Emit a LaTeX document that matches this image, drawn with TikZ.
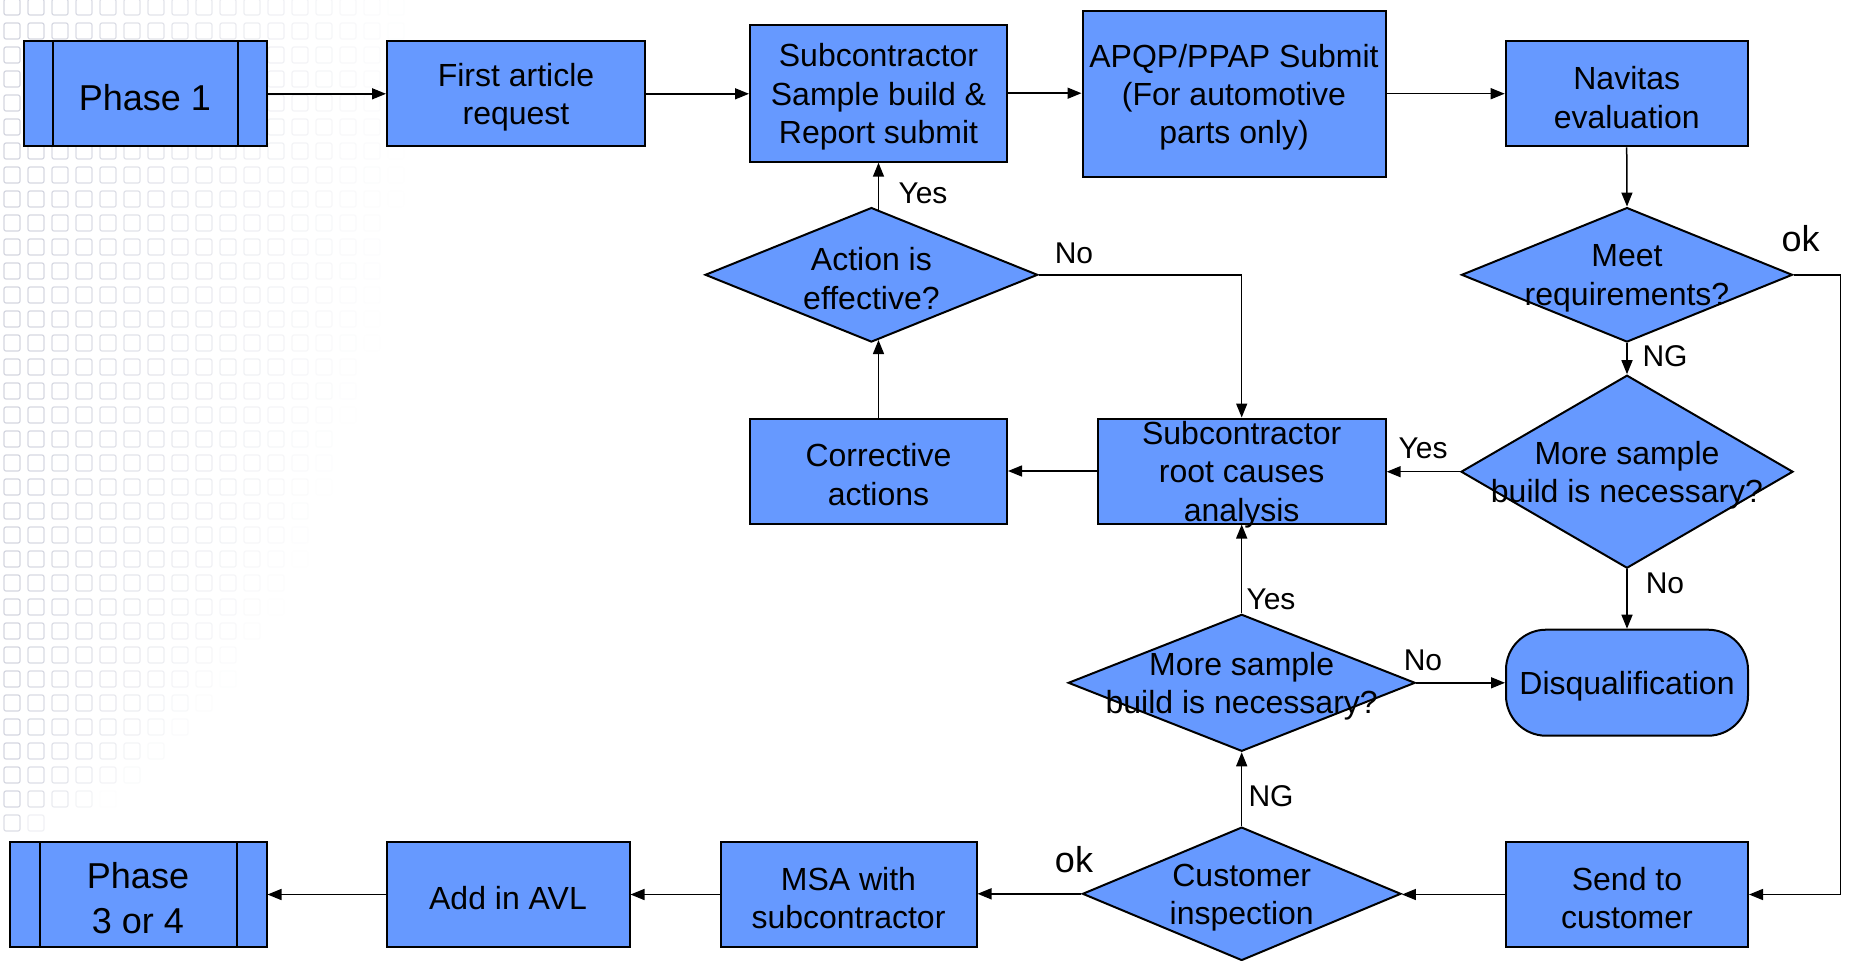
\documentclass[tikz,border=0pt]{standalone}
\usepackage{fontspec}
\setmainfont{Liberation Sans}
\usetikzlibrary{shapes.geometric,arrows.meta,calc}
\definecolor{nblue}{HTML}{6699FF}
\definecolor{gridc}{RGB}{212,214,224}
\newdimen\pxu \pxu=0.5pt
\begin{document}
\begin{tikzpicture}[x=0.5pt,y=-0.5pt,
  box/.style={draw=black, line width=1pt, fill=nblue, rectangle, inner sep=0pt},
  dia/.style={draw=black, line width=1pt, fill=nblue, diamond, inner sep=0pt},
  txt/.style={align=center, font=\fontsize{16}{19.2}\selectfont, inner sep=0pt, yshift=-1.8pt},
  big/.style={font=\fontsize{18}{22.4}\selectfont},
  lbl/.style={font=\fontsize{15}{18}\selectfont, inner sep=0pt},
  lblb/.style={font=\fontsize{18}{21}\selectfont, inner sep=0pt},
  conn/.style={draw=black, line width=0.75pt, -{Triangle[length=7pt,width=5.5pt]}},
]
\useasboundingbox (0,0) rectangle (1849,960);
\fill[white] (0,0) rectangle (1849,960);
% faint background grid
\foreach \i in {0,...,18} {
  \foreach \j in {0,...,34} {
    \pgfmathsetmacro\cx{12+24*\i}
    \pgfmathsetmacro\cy{7+24*\j}
    \pgfmathsetmacro\X{390*sqrt(max(0,1-(\cy/830)^2))}
    \pgfmathsetmacro\op{max(0,min(1,1.05-\cx/max(\X,1)))}
    \draw[gridc, line width=0.6pt, opacity=\op, rounded corners=1pt] (\cx-8,\cy-8) rectangle (\cx+8,\cy+8);
  }
}
% nodes
\node[box, minimum width=243\pxu, minimum height=105\pxu] (p1) at (145,93.8) {};
\node[txt, big] (p1t) at (p1.center) {Phase 1};
\draw[line width=1pt] ($(p1.north west)+(30,0)$) -- ($(p1.south west)+(30,0)$);
\draw[line width=1pt] ($(p1.north east)+(-30,0)$) -- ($(p1.south east)+(-30,0)$);
\node[box, minimum width=258\pxu, minimum height=105\pxu] (far) at (516,93.8) {};
\node[txt] (fart) at (far.center) {First article\\request};
\node[box, minimum width=257\pxu, minimum height=137\pxu] (ssb) at (878.5,93.2) {};
\node[txt] (ssbt) at (ssb.center) {Subcontractor\\Sample build \&\\Report submit};
\node[box, minimum width=303\pxu, minimum height=166\pxu] (apqp) at (1234,93.7) {};
\node[txt] (apqpt) at (apqp.center) {APQP/PPAP Submit\\(For automotive\\parts only)};
\node[box, minimum width=242\pxu, minimum height=105\pxu] (nav) at (1626.7,93.8) {};
\node[txt] (navt) at (nav.center) {Navitas\\evaluation};
\node[dia, minimum width=331\pxu, minimum height=134.5\pxu] (meet) at (1627,274.8) {};
\node[txt] (meett) at (meet.center) {Meet\\requirements?};
\node[dia, minimum width=332\pxu, minimum height=193\pxu] (msr) at (1627,471.7) {};
\node[txt] (msrt) at (msr.center) {More sample\\build is necessary?};
\node[box, rounded corners=20pt, minimum width=242\pxu, minimum height=106\pxu] (dq) at (1627,682.7) {};
\node[txt] (dqt) at (dq.center) {Disqualification};
\node[box, minimum width=242\pxu, minimum height=105\pxu] (stc) at (1627,894.5) {};
\node[txt] (stct) at (stc.center) {Send to\\customer};
\node[dia, minimum width=318.5\pxu, minimum height=133.4\pxu] (ci) at (1241.7,893.8) {};
\node[txt] (cit) at (ci.center) {Customer\\inspection};
\node[box, minimum width=256\pxu, minimum height=105\pxu] (msa) at (848.5,894.5) {};
\node[txt] (msat) at (msa.center) {MSA with\\subcontractor};
\node[box, minimum width=243\pxu, minimum height=105\pxu] (avl) at (508,894.5) {};
\node[txt] (avlt) at (avl.center) {Add in AVL};
\node[box, minimum width=257\pxu, minimum height=105\pxu] (p3) at (138,894.5) {};
\node[txt, big] (p3t) at (p3.center) {Phase\\3 or 4};
\draw[line width=1pt] ($(p3.north west)+(31,0)$) -- ($(p3.south west)+(31,0)$);
\draw[line width=1pt] ($(p3.north east)+(-31,0)$) -- ($(p3.south east)+(-31,0)$);
\node[dia, minimum width=347\pxu, minimum height=137\pxu] (msm) at (1241.7,682.8) {};
\node[txt] (msmt) at (msm.center) {More sample\\build is necessary?};
\node[box, minimum width=288\pxu, minimum height=105\pxu] (rca) at (1241.7,471) {};
\node[txt] (rcat) at (rca.center) {Subcontractor\\root causes\\analysis};
\node[box, minimum width=257\pxu, minimum height=105\pxu] (ca) at (878.5,471) {};
\node[txt] (cat) at (ca.center) {Corrective\\actions};
\node[dia, minimum width=332.6\pxu, minimum height=134.5\pxu] (act) at (871.4,274.8) {};
\node[txt] (actt) at (act.center) {Action is\\effective?};
\coordinate (rline) at (1840.7,0);
% connectors
\draw[conn] (p1.east) -- (p1.east -| far.west);
\draw[conn] (far.east) -- (far.east -| ssb.west);
\draw[conn] (ssb.east) -- (ssb.east -| apqp.west);
\draw[conn] (apqp.east) -- (apqp.east -| nav.west);
\draw[conn] (nav.south) -- (meet.north);
\draw[conn] (meet.south) -- (msr.north);
\draw[conn] (meet.east) -- (meet.east -| rline) |- (stc.east);
\draw[conn] (msr.west) -- (msr.west -| rca.east);
\draw[conn] (msr.south) -- (dq.north);
\draw[conn] (stc.west) -- (stc.west -| ci.east);
\draw[conn] (ci.west) -- (ci.west -| msa.east);
\draw[conn] (msa.west) -- (msa.west -| avl.east);
\draw[conn] (avl.west) -- (avl.west -| p3.east);
\draw[conn] (ci.north) -- (msm.south);
\draw[conn] (msm.north) -- (rca.south);
\draw[conn] (msm.east) -- (msm.east -| dq.west);
\draw[conn] (rca.west) -- (rca.west -| ca.east);
\draw[conn] (ca.north) -- ($(ca.north |- act.south)+(0,-3)$);
\draw[conn] ($(act.north -| ssb.south)+(0,3)$) -- (ssb.south);
\draw[conn] (act.east) -| (rca.north);
% labels
\node[lbl] (l1) at (923,193) {Yes};
\node[lbl] (l2) at (1074,253.5) {No};
\node[lblb] (l3) at (1800.6,239) {ok};
\node[lbl] (l4) at (1665,356) {NG};
\node[lbl] (l5) at (1423,448) {Yes};
\node[lbl] (l6) at (1665,583.7) {No};
\node[lbl] (l7) at (1271,599) {Yes};
\node[lbl] (l8) at (1423,660) {No};
\node[lbl] (l9) at (1271,796) {NG};
\node[lblb] (l10) at (1074,859.6) {ok};
\end{tikzpicture}
\end{document}
